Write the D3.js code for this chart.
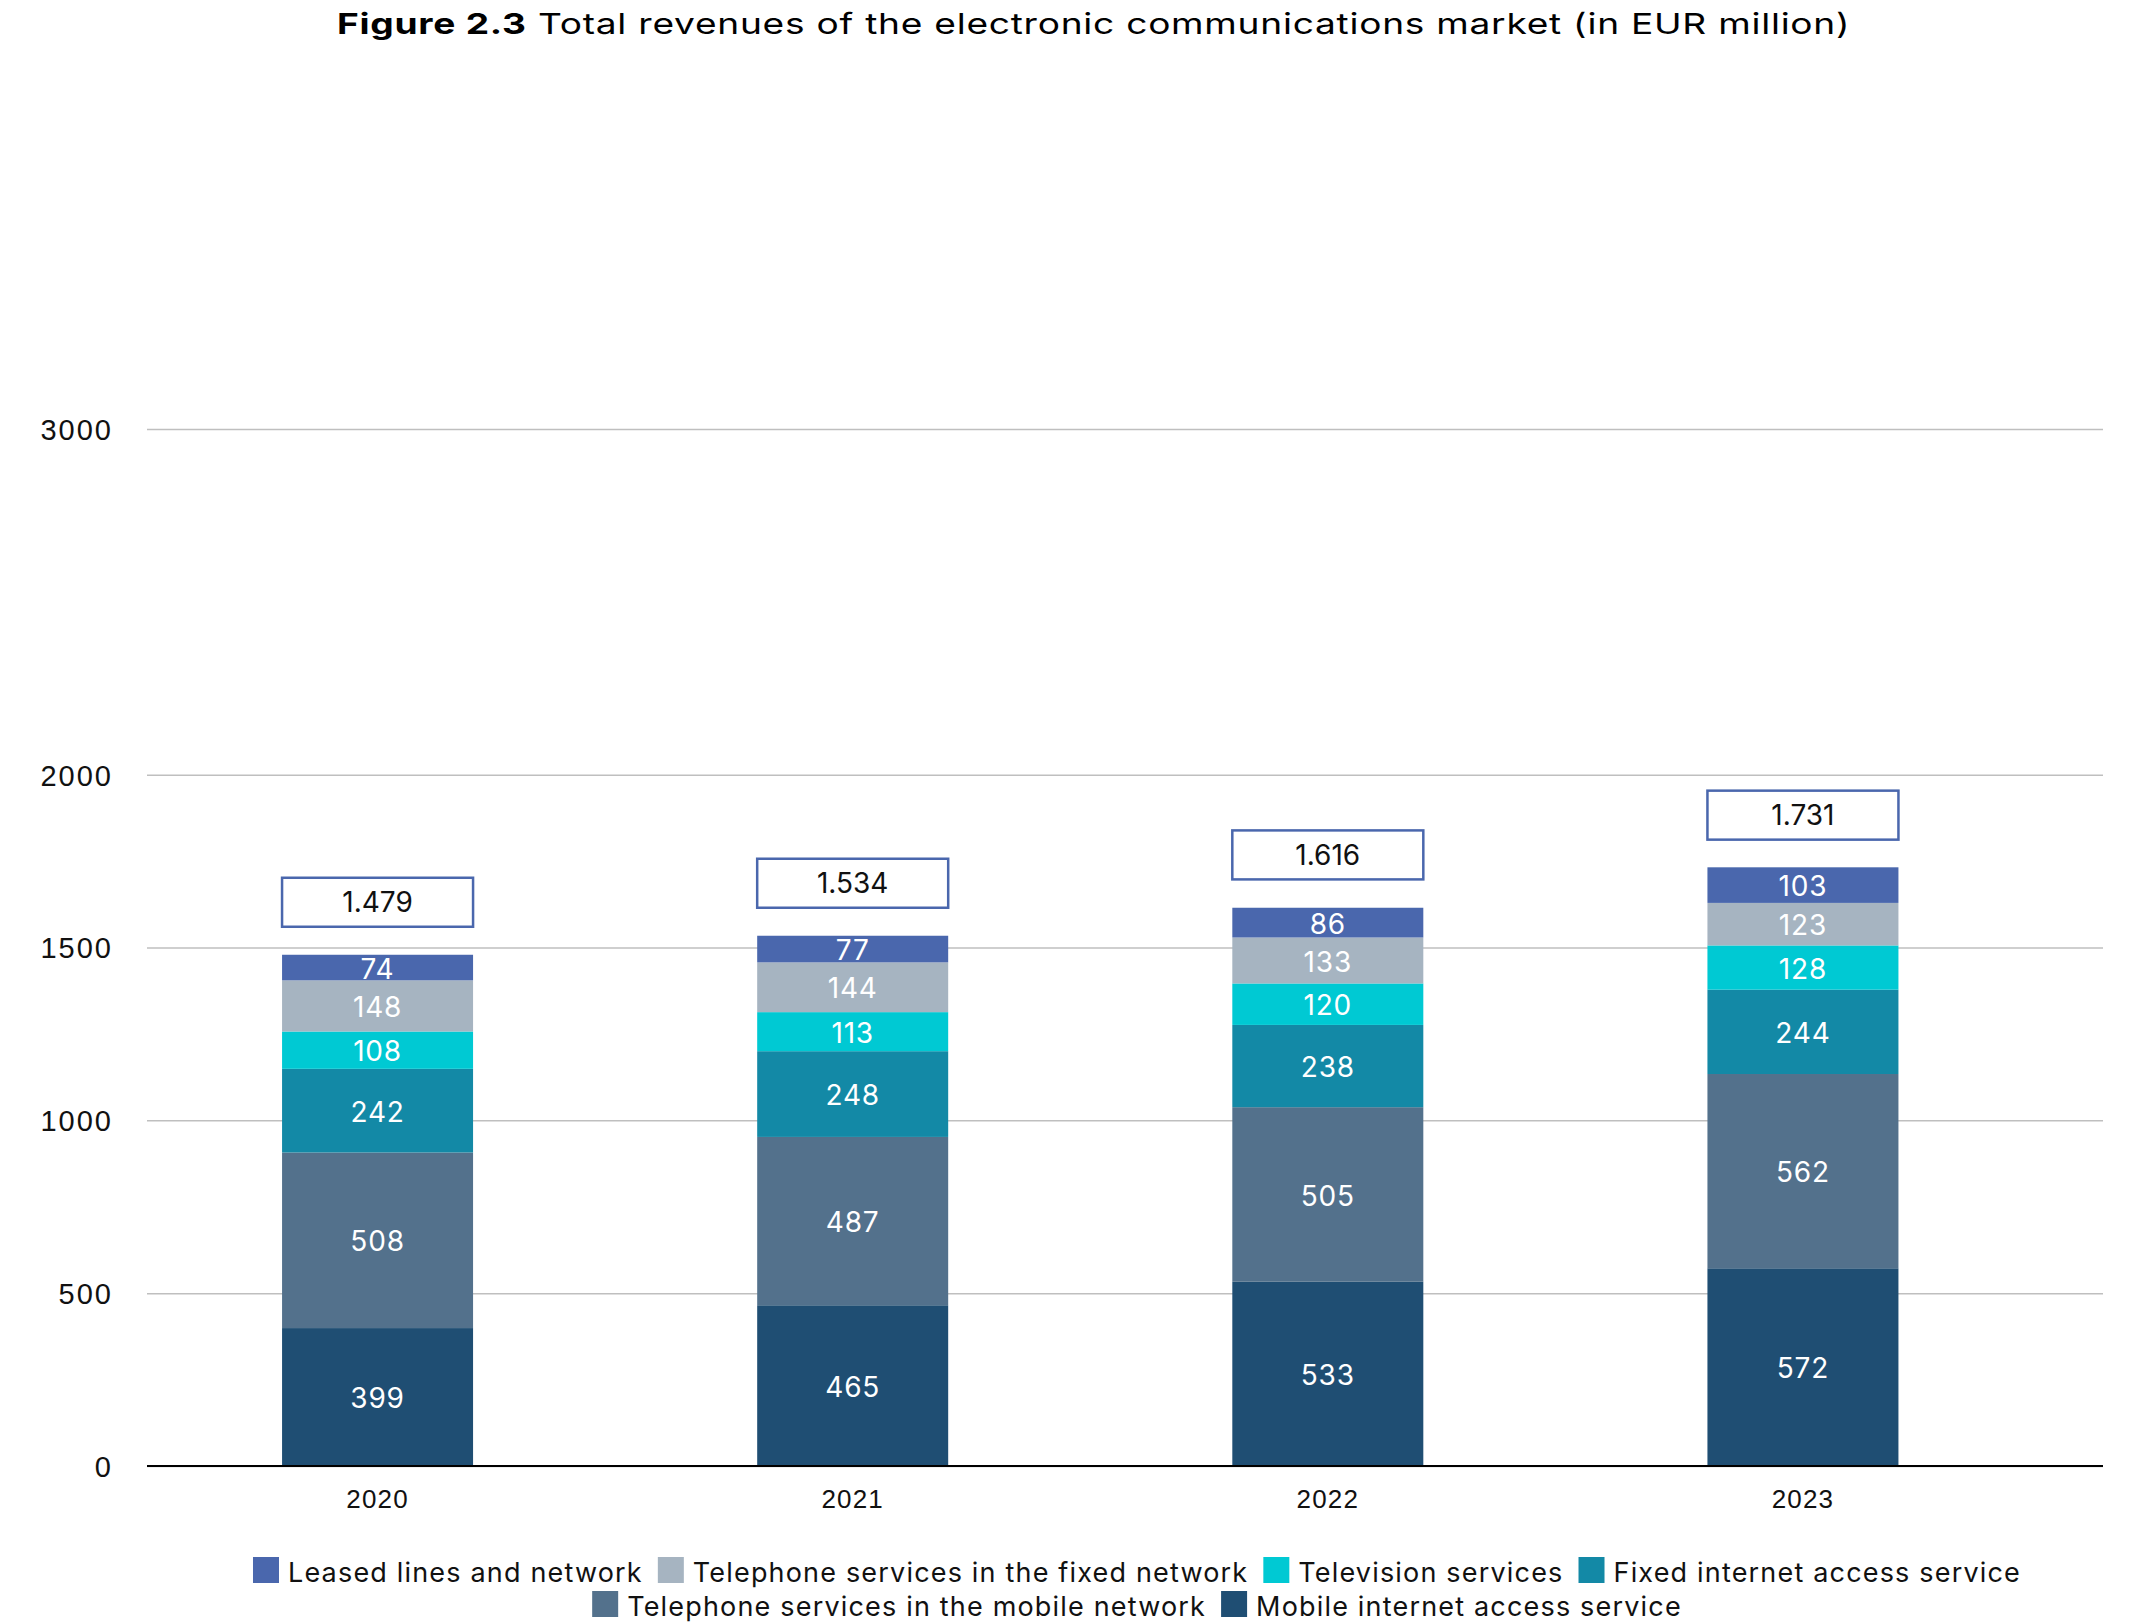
<!DOCTYPE html>
<html>
<head>
<meta charset="utf-8">
<script src="https://cdn.jsdelivr.net/npm/d3@7/dist/d3.min.js"></script>
<style>
  html, body { margin: 0; padding: 0; background: #ffffff; }
  svg { display: block; font-family: "Inter", "Noto Sans", sans-serif; }
</style>
</head>
<body>
<svg id="chart" width="2130" height="1623"></svg>
<script>
// Revenue by service, EUR million, stacked from the bottom up
const years = ["2020", "2021", "2022", "2023"];
const seriesNames = [
  "Mobile internet access service",
  "Telephone services in the mobile network",
  "Fixed internet access service",
  "Television services",
  "Telephone services in the fixed network",
  "Leased lines and network"
];
const mobileInternet = [399, 465, 533, 572];
const mobileTelephone = [508, 487, 505, 562];
const fixedInternet = [242, 248, 238, 244];
const television = [108, 113, 120, 128];
const fixedTelephone = [148, 144, 133, 123];
const leasedLines = [74, 77, 86, 103];
const totals = [1479, 1534, 1616, 1731];
const yTicks = [0, 500, 1000, 1500, 2000, 3000];
const seriesColors = ["#1f4e73", "#53718c", "#1389a6", "#00c9d3", "#a6b4c1", "#4a67ad"];

const seriesValues = [mobileInternet, mobileTelephone, fixedInternet, television, fixedTelephone, leasedLines];
const rows = years.map((yr, i) => {
  const r = { year: yr };
  seriesNames.forEach((n, k) => { r[n] = seriesValues[k][i]; });
  return r;
});

const svg = d3.select("#chart");

// Title: a wide face, so the run is stretched horizontally to its 1514px slot
const titleX = 337, titleY = 34, titleWidth = 1514;
const titleG = svg.append("g");
const title = titleG.append("text")
  .attr("x", 0).attr("y", 0)
  .style("font-size", "29px")
  .style("letter-spacing", "0.6px")
  .style("fill", "#000");
title.append("tspan").style("font-weight", "700").text("Figure 2.3");
title.append("tspan").text(" Total revenues of the electronic communications market (in EUR million)");
const titleStretch = titleWidth / title.node().getComputedTextLength();
titleG.attr("transform", `translate(${titleX},${titleY}) scale(${titleStretch},1)`);

// Scales
const plotLeft = 147, plotRight = 2103;
const y = d3.scaleLinear().domain([0, 3000]).range([1466, 429]);
const x = d3.scaleBand()
  .domain(years)
  .range([140, 2040.5])
  .paddingInner(0.598)
  .paddingOuter(0.299);

// Gridlines and y tick labels
const yAxis = d3.axisLeft(y)
  .tickValues(yTicks)
  .tickSize(-(plotRight - plotLeft))
  .tickPadding(34)
  .tickFormat(d3.format("d"));
const gy = svg.append("g")
  .attr("transform", `translate(${plotLeft},0)`)
  .call(yAxis);
gy.select(".domain").remove();
gy.selectAll(".tick line").attr("stroke", "#bfbfbf").attr("stroke-width", 1.5);
gy.selectAll(".tick text")
  .style("font-size", "29px")
  .style("letter-spacing", "2px")
  .style("fill", "#111")
  .attr("dy", "0.36em");

// Stacked bars
const stack = d3.stack().keys(seriesNames);
const layers = stack(rows);

const layerG = svg.append("g").selectAll("g")
  .data(layers)
  .join("g")
  .attr("fill", (d, i) => seriesColors[i]);

layerG.selectAll("rect")
  .data(d => d)
  .join("rect")
  .attr("x", d => x(d.data.year))
  .attr("width", x.bandwidth())
  .attr("y", d => y(d[1]))
  .attr("height", d => y(d[0]) - y(d[1]));

// Segment value labels
const labelG = svg.append("g");
layers.forEach(layer => {
  labelG.selectAll(null)
    .data(layer)
    .join("text")
    .attr("x", d => x(d.data.year) + x.bandwidth() / 2)
    .attr("y", d => (y(d[0]) + y(d[1])) / 2 + 1)
    .attr("text-anchor", "middle")
    .attr("dy", "0.36em")
    .style("font-size", "28px")
    .style("letter-spacing", "0.8px")
    .style("fill", "#ffffff")
    .text(d => d.data[layer.key]);
});

// Baseline and year labels
const xAxis = d3.axisBottom(x).tickSize(0).tickPadding(24);
const gx = svg.append("g")
  .attr("transform", `translate(0,${y(0)})`)
  .call(xAxis);
gx.select(".domain")
  .attr("d", `M${plotLeft},0H${plotRight}`)
  .attr("stroke", "#000")
  .attr("stroke-width", 2);
gx.selectAll(".tick text")
  .style("font-size", "26px")
  .style("letter-spacing", "1.2px")
  .style("fill", "#111");

// Total boxes above each bar
const euro = d3.formatLocale({ decimal: ",", thousands: ".", grouping: [3], currency: ["", "€"] });
const fmtTotal = euro.format(",d");
const boxH = 49, boxGap = 28;
const totalG = svg.append("g").selectAll("g")
  .data(years.map((yr, i) => ({ year: yr, total: totals[i] })))
  .join("g")
  .attr("transform", d => `translate(${x(d.year)},${y(d.total) - boxGap - boxH})`);
totalG.append("rect")
  .attr("width", x.bandwidth())
  .attr("height", boxH)
  .attr("fill", "#fff")
  .attr("stroke", "#4a67ad")
  .attr("stroke-width", 2.5);
totalG.append("text")
  .attr("x", x.bandwidth() / 2)
  .attr("y", boxH / 2)
  .attr("dy", "0.36em")
  .attr("text-anchor", "middle")
  .style("font-size", "28px")
  .style("fill", "#111")
  .text(d => fmtTotal(d.total));

// Legend, two centred rows; letter spacing chosen so the first row spans 1768px
const legendOrder = seriesNames.map((n, i) => ({ name: n, color: seriesColors[i] })).reverse();
const legendRows = [legendOrder.slice(0, 4), legendOrder.slice(4)];
const sw = 26, swGap = 9, itemGap = 15, legendCx = 1137, firstRowWidth = 1768;

// measure the first row at normal spacing
const probe = svg.append("text").style("font-size", "27px");
let rawText = 0, rawChars = 0;
legendRows[0].forEach(it => {
  probe.text(it.name);
  rawText += probe.node().getComputedTextLength();
  rawChars += it.name.length;
});
probe.remove();
const fixedPart = legendRows[0].length * (sw + swGap) + (legendRows[0].length - 1) * itemGap;
const legendSpacing = (firstRowWidth - fixedPart - rawText) / rawChars;

legendRows.forEach((items, r) => {
  const g = svg.append("g");
  let cursor = 0;
  items.forEach((it, k) => {
    g.append("rect")
      .attr("x", cursor).attr("y", 0)
      .attr("width", sw).attr("height", sw)
      .attr("fill", it.color);
    const t = g.append("text")
      .attr("x", cursor + sw + swGap)
      .attr("y", sw - 1)
      .style("font-size", "27px")
      .style("letter-spacing", legendSpacing + "px")
      .style("fill", "#111")
      .text(it.name);
    cursor += sw + swGap + t.node().getComputedTextLength() + (k < items.length - 1 ? itemGap : 0);
  });
  g.attr("transform", `translate(${legendCx - cursor / 2},${1557 + r * 34})`);
});
</script>
</body>
</html>
